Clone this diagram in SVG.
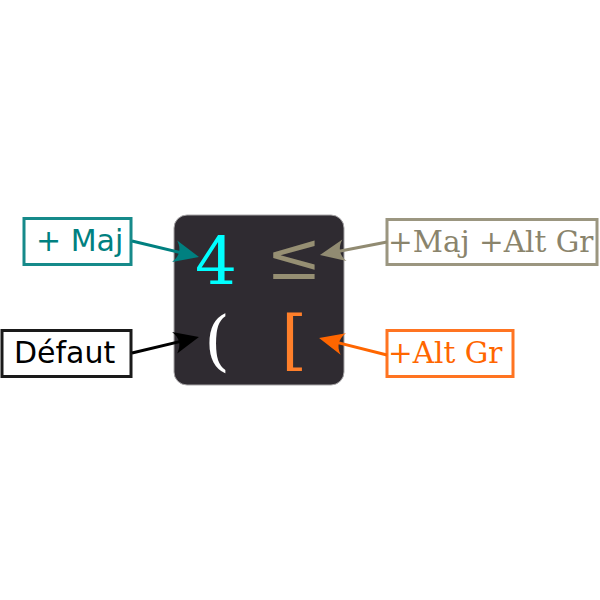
<svg xmlns="http://www.w3.org/2000/svg" width="600" height="600" viewBox="0 0 600 600">
<defs>
<style>
.box{fill:#ffffff;stroke-width:3}
.sans{font-family:"DejaVu Sans","Liberation Sans",sans-serif;font-size:30px}
.serif{font-family:"DejaVu Serif","Liberation Serif",serif;font-size:29.5px}
.glyph{font-family:"DejaVu Serif","Liberation Serif",serif;font-size:66px;text-anchor:middle}
.conn{fill:none;stroke-width:3}
</style>
<marker id="ah-teal" markerUnits="userSpaceOnUse" viewBox="-18 -13 28 26" markerWidth="28" markerHeight="26" refX="0" refY="0" orient="auto"><path d="M9,0 L-16,-11 C-10,-4 -10,4 -16,11 Z" fill="#008080"/></marker>
<marker id="ah-black" markerUnits="userSpaceOnUse" viewBox="-18 -13 28 26" markerWidth="28" markerHeight="26" refX="0" refY="0" orient="auto"><path d="M9,0 L-16,-11 C-10,-4 -10,4 -16,11 Z" fill="#000000"/></marker>
<marker id="ah-gray" markerUnits="userSpaceOnUse" viewBox="-18 -13 28 26" markerWidth="28" markerHeight="26" refX="0" refY="0" orient="auto"><path d="M9,0 L-16,-11 C-10,-4 -10,4 -16,11 Z" fill="#918b72"/></marker>
<marker id="ah-orange" markerUnits="userSpaceOnUse" viewBox="-18 -13 28 26" markerWidth="28" markerHeight="26" refX="0" refY="0" orient="auto"><path d="M9,0 L-16,-11 C-10,-4 -10,4 -16,11 Z" fill="#ff6600"/></marker>
</defs>
<g id="key">
<rect x="174" y="215" width="170" height="170" rx="13" fill="#2f2b31" stroke="#a8a6a8" stroke-width="1"/>
<text class="glyph" x="216" y="284" fill="#00ffff">4</text>
<text class="glyph" x="294" y="279" fill="#968f73">≤</text>
<text class="glyph" x="217" y="363" fill="#ffffff">(</text>
<text class="glyph" x="294" y="362" fill="#ff7f2a">[</text>
</g>
<g id="label-maj">
<rect class="box" x="24" y="218.5" width="107" height="46" stroke="#168a8a"/>
<text class="sans" x="36" y="251" fill="#008080">+ Maj</text>
</g>
<g id="label-defaut">
<rect class="box" x="2" y="330.5" width="129" height="46" stroke="#1a1a1a"/>
<text class="sans" x="14" y="363" fill="#000000">Défaut</text>
</g>
<g id="label-majaltgr">
<rect class="box" x="387" y="219.5" width="210" height="45" stroke="#9b9680"/>
<text class="serif" x="388" y="252" fill="#8a846c">+Maj +Alt Gr</text>
</g>
<g id="label-altgr">
<rect class="box" x="387" y="330.5" width="126" height="46" stroke="#ff7421"/>
<text class="serif" x="388" y="363" fill="#ff6600">+Alt Gr</text>
</g>
<g id="connectors">
<line class="conn" x1="132" y1="241" x2="190.2" y2="254.9" stroke="#008080" marker-end="url(#ah-teal)"/>
<line class="conn" x1="132" y1="353" x2="190.2" y2="339.1" stroke="#000000" marker-end="url(#ah-black)"/>
<line class="conn" x1="387" y1="242" x2="328.8" y2="253.3" stroke="#918b72" marker-end="url(#ah-gray)"/>
<line class="conn" x1="387" y1="355" x2="327.8" y2="340.1" stroke="#ff6600" marker-end="url(#ah-orange)"/>
</g>
</svg>
